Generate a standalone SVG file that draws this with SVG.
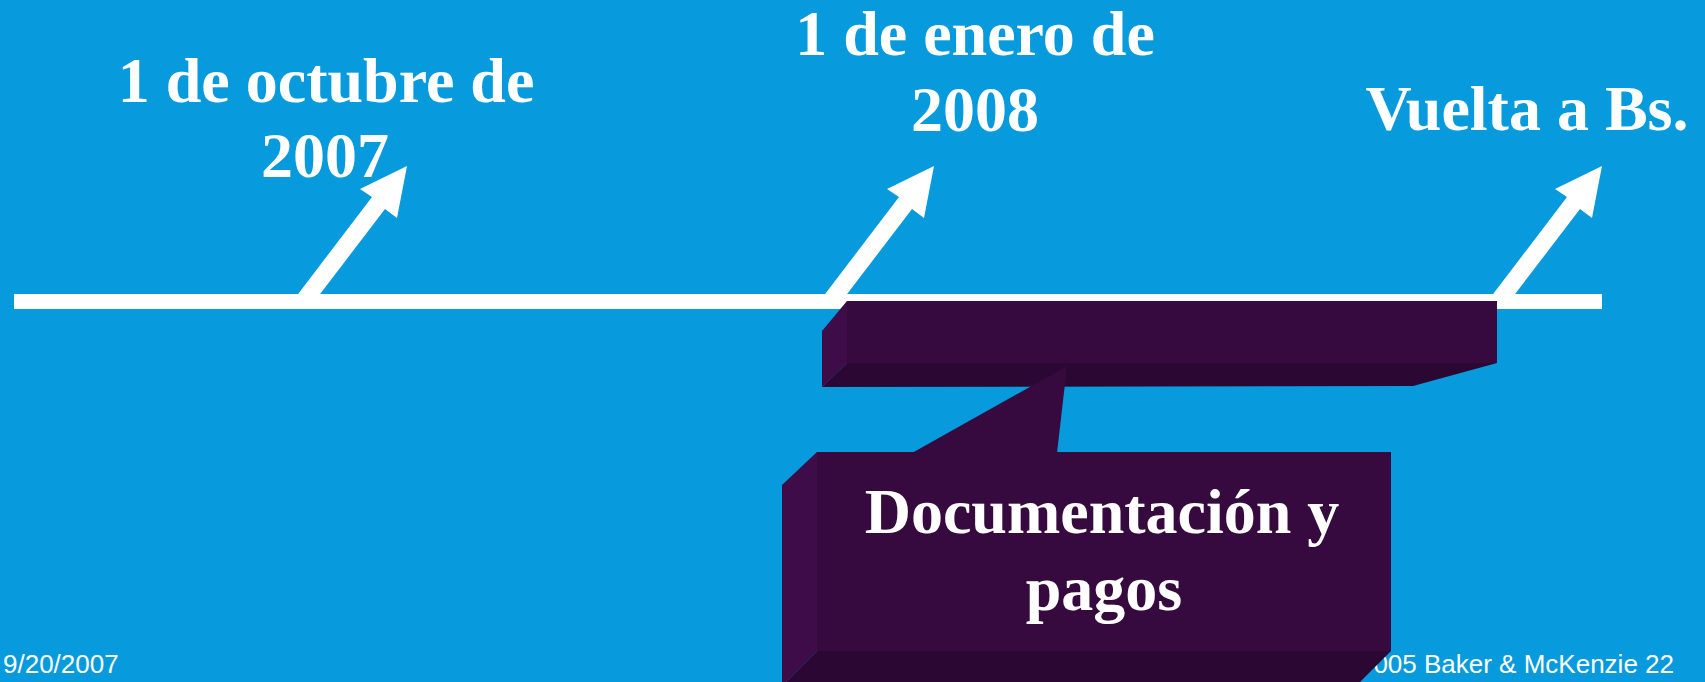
<svg xmlns="http://www.w3.org/2000/svg" width="1705" height="682" viewBox="0 0 1705 682">
<defs>
<style>
.title{font-family:"Liberation Serif","Times New Roman",serif;font-weight:bold;font-size:64px;fill:#ffffff;text-anchor:middle}
.foot{font-family:"Liberation Sans",Arial,sans-serif;font-size:26px;fill:#ffffff}
.arrow{fill:#ffffff}
.front{fill:#360a3e}
.side{fill:#3e0c48}
.bottom{fill:#2a0833}
</style>
<polygon id="arr" points="292,302 314,302 385,209 397,218 407,166 360,189 372,197"/>
</defs>
<rect x="0" y="0" width="1705" height="682" fill="#079ADD"/>
<g id="connectors">
<rect id="timeline" x="14" y="294" width="1588" height="15" fill="#ffffff"/>
<use href="#arr" class="arrow"/>
<use href="#arr" class="arrow" transform="translate(527,0)"/>
<use href="#arr" class="arrow" transform="translate(1195,0)"/>
</g>
<g id="label-oct">
<text class="title" x="326" y="102">1 de octubre de</text>
<text class="title" x="325" y="177">2007</text>
</g>
<g id="label-ene">
<text class="title" x="975" y="55">1 de enero de</text>
<text class="title" x="975" y="131">2008</text>
</g>
<g id="label-vuelta">
<text class="title" x="1527" y="130">Vuelta a Bs.</text>
</g>
<g id="footer">
<text class="foot" x="3" y="673">9/20/2007</text>
<text class="foot" x="1674" y="673" text-anchor="end">005 Baker &amp; McKenzie 22</text>
</g>
<g id="period-box">
<polygon class="front" points="847,301 1497,301 1497,363 847,363"/>
<polygon class="side" points="822,331 847,301 847,363 822,387"/>
<polygon class="bottom" points="847,363 1497,363 1413,386 822,387"/>
</g>
<g id="callout">
<polygon class="front" points="912,453 1067,366 1057,453"/>
<polygon class="front" points="817,452 1391,452 1391,651 817,651"/>
<polygon class="side" points="782,485 817,452 817,651 782,686"/>
<polygon class="bottom" points="817,651 1391,651 1356,686 782,686"/>
<text class="title" x="1102" y="533">Documentación y</text>
<text class="title" x="1104" y="610">pagos</text>
</g>
</svg>
